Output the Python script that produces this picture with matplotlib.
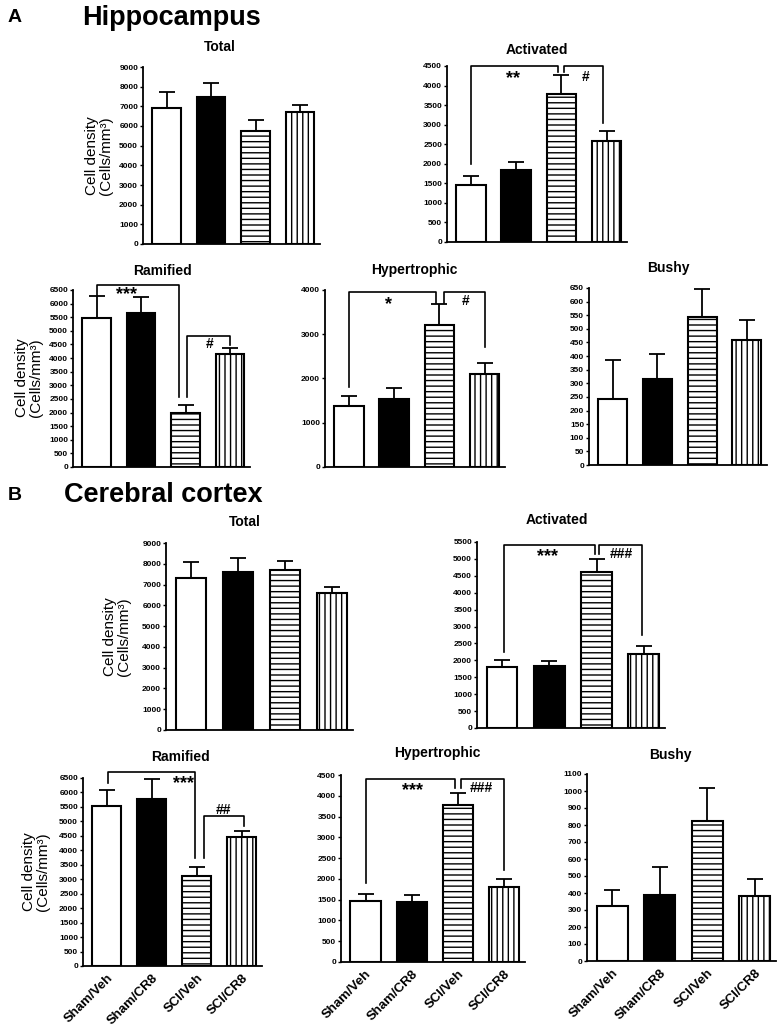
import matplotlib
matplotlib.use('Agg')
import matplotlib.pyplot as plt

plt.rcParams['font.family'] = ['Liberation Sans', 'DejaVu Sans']
plt.rcParams['hatch.linewidth'] = 1.0

groups = ['Sham/Veh', 'Sham/CR8', 'SCI/Veh', 'SCI/CR8']

# hippocampus (A)
hip_total = [6930, 7480, 5740, 6690]
hip_total_err = [810, 710, 590, 400]
hip_activated = [1445, 1840, 3780, 2570]
hip_activated_err = [230, 215, 490, 265]
hip_ramified = [5460, 5665, 1990, 4135]
hip_ramified_err = [830, 590, 270, 220]
hip_hyper = [1370, 1535, 3210, 2100]
hip_hyper_err = [225, 250, 465, 250]
hip_bushy = [243, 316, 545, 459]
hip_bushy_err = [143, 92, 103, 75]

# cerebral cortex (B)
cx_total = [7310, 7600, 7680, 6590]
cx_total_err = [755, 675, 435, 290]
cx_activated = [1815, 1845, 4615, 2190]
cx_activated_err = [200, 150, 395, 245]
cx_ramified = [5520, 5770, 3095, 4445]
cx_ramified_err = [575, 690, 325, 210]
cx_hyper = [1475, 1445, 3780, 1815]
cx_hyper_err = [155, 175, 295, 175]
cx_bushy = [324, 390, 824, 382]
cx_bushy_err = [94, 163, 194, 102]

W, H = 777, 1028
fig = plt.figure(figsize=(W / 100, H / 100), dpi=100)

fills = ['white', 'black', 'white', 'white']
hatches = [None, None, '---', '|||']


def px_axes(x0, x1, ytop, ybot):
    return fig.add_axes([x0 / W, 1 - ybot / H, (x1 - x0) / W, (ybot - ytop) / H])


def ftext(x, y, s, **kw):
    fig.text(x / W, 1 - y / H, s, **kw)


def bar_panel(rect, vals, errs, ymax, step, title, title_xy, xlabels=False):
    ax = px_axes(*rect)
    xs = range(len(vals))
    for i in xs:
        ax.bar(i, vals[i], width=0.65, color=fills[i], edgecolor='black',
               hatch=hatches[i], linewidth=1.5, zorder=2)
    ax.errorbar(list(xs), vals, yerr=[[0] * len(vals), errs], fmt='none',
                ecolor='black', elinewidth=1.3, capsize=5.5, capthick=1.3, zorder=3)
    ax.set_xlim(-0.53, 3.45)
    ax.set_ylim(0, ymax)
    ax.set_yticks(range(0, ymax + 1, step))
    ax.tick_params(axis='y', labelsize=6, length=2.5, width=1, pad=1)
    for lab in ax.get_yticklabels():
        lab.set_fontweight('bold')
    for s in ['top', 'right']:
        ax.spines[s].set_visible(False)
    for s in ['left', 'bottom']:
        ax.spines[s].set_linewidth(1.3)
    if xlabels:
        ax.set_xticks(list(xs))
        ax.set_xticklabels(groups, rotation=45, ha='right', va='top',
                           rotation_mode='anchor', fontsize=9.5, fontweight='bold')
        ax.tick_params(axis='x', length=0, pad=4)
    else:
        ax.set_xticks([])
    ftext(title_xy[0], title_xy[1], title, fontsize=10, fontweight='bold',
          ha='center', va='center')
    return ax


def bracket(ax, x0, y0, x1, y1, ytop):
    ax.plot([x0, x0, x1, x1], [y0, ytop, ytop, y1], color='black', lw=1.2,
            clip_on=False, zorder=4)


def star(ax, x, y, s):
    size = 13 if '*' in s else 10
    ax.text(x, y, s, ha='center', va='center', fontsize=size, fontweight='bold',
            clip_on=False, zorder=5)


def ylab(x, y):
    ftext(x, y, 'Cell density\n(Cells/mm³)', rotation=90, fontsize=11,
          ha='center', va='center', linespacing=1.0)


# headers
ftext(8, 18, 'A', fontsize=14, fontweight='bold', ha='left', va='center')
ftext(82, 18, 'Hippocampus', fontsize=19.5, fontweight='bold', ha='left', va='center')
ftext(8, 495, 'B', fontsize=14, fontweight='bold', ha='left', va='center')
ftext(64, 495, 'Cerebral cortex', fontsize=19.5, fontweight='bold', ha='left', va='center')

# ---- A ----
ax = bar_panel((143, 320, 67, 244), hip_total, hip_total_err, 9000, 1000, 'Total', (220, 47))
ylab(99, 156)

ax = bar_panel((447, 627, 66, 242), hip_activated, hip_activated_err, 4500, 500, 'Activated', (537, 50))
bracket(ax, 0, 2000, 1.92, 4350, 4500)
bracket(ax, 2.06, 4350, 2.91, 3030, 4500)
star(ax, 0.93, 4180, '**')
star(ax, 2.53, 4230, '#')

ax = bar_panel((73, 250, 290, 467), hip_ramified, hip_ramified_err, 6500, 500, 'Ramified', (162, 271))
ylab(29, 378)
bracket(ax, 0, 6300, 1.85, 2575, 6700)
bracket(ax, 2.03, 2575, 3.0, 4476, 4808)
star(ax, 0.67, 6330, '***')
star(ax, 2.55, 4500, '#')

ax = bar_panel((325, 505, 290, 467), hip_hyper, hip_hyper_err, 4000, 1000, 'Hypertrophic', (414, 270))
bracket(ax, 0, 1800, 1.93, 3700, 3962)
bracket(ax, 2.1, 3700, 3.0, 2722, 3962)
star(ax, 0.88, 3680, '*')
star(ax, 2.57, 3760, '#')

ax = bar_panel((589, 767, 288, 465), hip_bushy, hip_bushy_err, 650, 50, 'Bushy', (668, 268))

# ---- B ----
ax = bar_panel((166, 353, 543, 730), cx_total, cx_total_err, 9000, 1000, 'Total', (245, 522))
ylab(117, 637)

ax = bar_panel((477, 665, 542, 728), cx_activated, cx_activated_err, 5500, 500, 'Activated', (557, 520))
bracket(ax, 0.04, 2260, 1.96, 5156, 5421)
bracket(ax, 2.06, 5156, 2.97, 2750, 5421)
star(ax, 0.96, 5080, '***')
star(ax, 2.53, 5150, '###')

ax = bar_panel((83, 262, 778, 966), cx_ramified, cx_ramified_err, 6500, 500, 'Ramified', (180, 757), True)
ylab(36, 872)
bracket(ax, 0.03, 6330, 1.97, 3730, 6696)
bracket(ax, 2.15, 3730, 3.04, 4826, 5172)
star(ax, 1.7, 6300, '***')
star(ax, 2.6, 5400, '##')

ax = bar_panel((341, 525, 775, 962), cx_hyper, cx_hyper_err, 4500, 500, 'Hypertrophic', (437, 753), True)
bracket(ax, 0, 1893, 1.94, 4179, 4396)
bracket(ax, 2.07, 4179, 3.0, 2214, 4396)
star(ax, 1.01, 4130, '***')
star(ax, 2.51, 4180, '###')

ax = bar_panel((587, 776, 774, 961), cx_bushy, cx_bushy_err, 1100, 100, 'Bushy', (670, 755), True)

fig.savefig('out.png', dpi=100)
